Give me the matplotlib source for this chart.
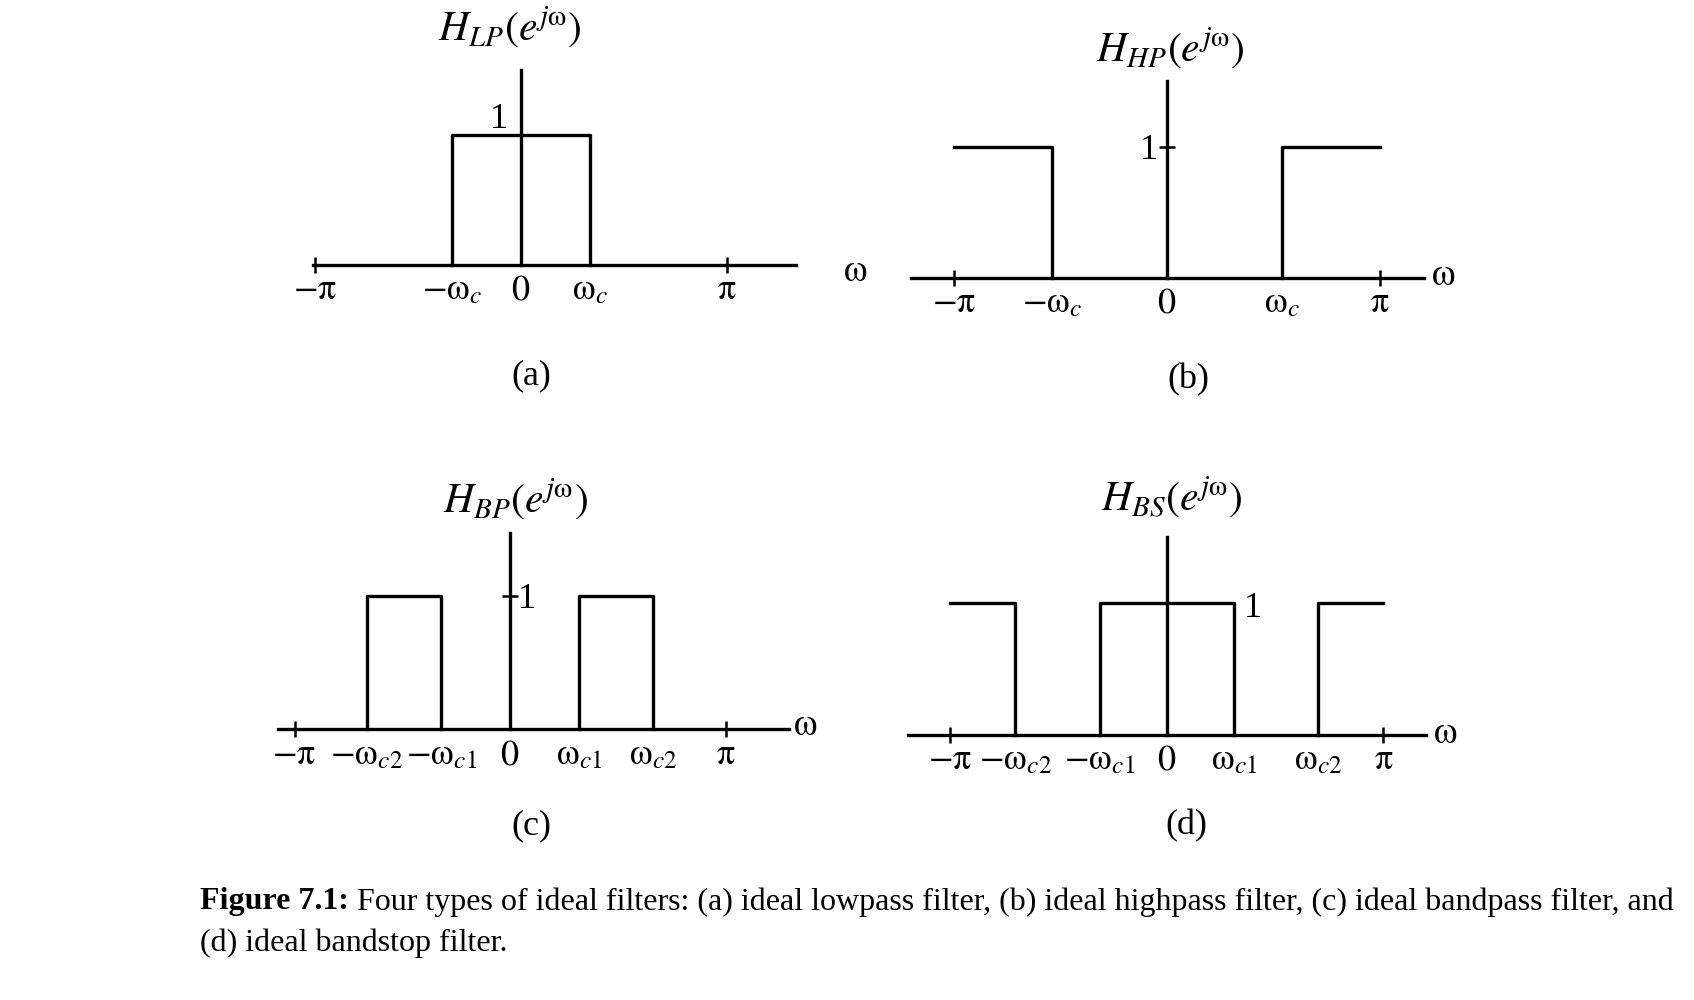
import matplotlib
matplotlib.use("Agg")
import matplotlib.pyplot as plt

plt.rcParams['font.family'] = 'serif'
plt.rcParams['font.serif'] = ['Liberation Serif', 'DejaVu Serif']
plt.rcParams['mathtext.fontset'] = 'stix'

W, H = 1694, 1000

# cutoff frequencies, in units of pi
wc_lp = 0.335
wc_hp = 0.54
wc1_bp, wc2_bp = 0.32, 0.665
wc1_bs, wc2_bs = 0.31, 0.70

lp_ticks = [-1, -wc_lp, 0, wc_lp, 1]
lp_labels = [r'$-\mathrm{\pi}$', r'$-\mathrm{\omega}_c$', r'$0$', r'$\mathrm{\omega}_c$', r'$\mathrm{\pi}$']
hp_ticks = [-1, -wc_hp, 0, wc_hp, 1]
hp_labels = lp_labels
bp_ticks = [-1, -wc2_bp, -wc1_bp, 0, wc1_bp, wc2_bp, 1]
bp_labels = [r'$-\mathrm{\pi}$', r'$-\mathrm{\omega}_{c2}$', r'$-\mathrm{\omega}_{c1}$', r'$0$',
             r'$\mathrm{\omega}_{c1}$', r'$\mathrm{\omega}_{c2}$', r'$\mathrm{\pi}$']
bs_ticks = [-1, -wc2_bs, -wc1_bs, 0, wc1_bs, wc2_bs, 1]
bs_labels = bp_labels

LW = 2.4
TICK_FS = 26


def px(x, y):
    # pixel position (from top-left) -> figure fraction
    return x / W, 1 - y / H


def make_panel(left, right, base, top, xlim, ytop):
    ax = fig.add_axes([left / W, 1 - base / H, (right - left) / W, (base - top) / H])
    ax.set_xlim(*xlim)
    ax.set_ylim(0, ytop)
    ax.patch.set_alpha(0)
    for s in ['top', 'right']:
        ax.spines[s].set_visible(False)
    ax.spines['left'].set_position(('data', 0))
    ax.spines['left'].set_linewidth(LW)
    ax.spines['bottom'].set_linewidth(LW)
    ax.tick_params(axis='x', direction='inout', length=12, width=1.8, pad=1, labelsize=TICK_FS)
    ax.tick_params(axis='y', direction='inout', length=12, width=1.8, labelleft=False)
    ax.set_yticks([])
    return ax


def set_xlabels(ax, ticks, labels):
    ax.set_xticks(ticks, labels)
    for t, pos in zip(ax.xaxis.get_major_ticks(), ticks):
        if abs(abs(pos) - 1) > 1e-9:
            t.tick1line.set_visible(False)


fig = plt.figure(figsize=(W / 100, H / 100), dpi=100)
fig.patch.set_facecolor('white')

# (a) lowpass
ax = make_panel(313, 796, 264.7, 70.2, (-1.009, 1.336), 1.50)
set_xlabels(ax, lp_ticks, lp_labels)
ax.plot([-wc_lp, -wc_lp, wc_lp, wc_lp], [0, 1, 1, 0], color='black', lw=LW, clip_on=False)
ax.text(-0.105, 1.12, '1', fontsize=TICK_FS, ha='center', va='center')

# (b) highpass
ax = make_panel(910.8, 1424, 277.7, 81, (-1.202, 1.207), 1.505)
set_xlabels(ax, hp_ticks, hp_labels)
ax.set_yticks([1])
ax.plot([-1, -wc_hp, -wc_hp], [1, 1, 0], color='black', lw=LW, clip_on=False)
ax.plot([wc_hp, wc_hp, 1], [0, 1, 1], color='black', lw=LW, clip_on=False)
ax.text(-0.04, 0.97, '1', fontsize=TICK_FS, ha='right', va='center')

# (c) bandpass
ax = make_panel(277.7, 788.7, 729.3, 532.6, (-1.078, 1.293), 1.48)
set_xlabels(ax, bp_ticks, bp_labels)
ax.set_yticks([1])
for a, b in [(-wc2_bp, -wc1_bp), (wc1_bp, wc2_bp)]:
    ax.plot([a, a, b, b], [0, 1, 1, 0], color='black', lw=LW, clip_on=False)
ax.text(0.035, 0.98, '1', fontsize=TICK_FS, ha='left', va='center')

# (d) bandstop
ax = make_panel(907.5, 1426, 734.7, 537, (-1.197, 1.197), 1.50)
set_xlabels(ax, bs_ticks, bs_labels)
ax.plot([-1, -wc2_bs, -wc2_bs], [1, 1, 0], color='black', lw=LW, clip_on=False)
ax.plot([-wc1_bs, -wc1_bs, wc1_bs, wc1_bs], [0, 1, 1, 0], color='black', lw=LW, clip_on=False)
ax.plot([wc2_bs, wc2_bs, 1], [0, 1, 1], color='black', lw=LW, clip_on=False)
ax.text(wc1_bs + 0.045, 0.96, '1', fontsize=TICK_FS, ha='left', va='center')

# titles, omega labels, sub-captions
titles = [r'$H_{LP}(e^{j\mathrm{\omega}})$', r'$H_{HP}(e^{j\mathrm{\omega}})$',
          r'$H_{BP}(e^{j\mathrm{\omega}})$', r'$H_{BS}(e^{j\mathrm{\omega}})$']
title_pos = [(510, 27), (1170, 48), (515, 499), (1172, 497)]
omega_pos = [(855, 272), (1443, 276), (805, 726), (1445, 734)]
sub_labels = ['(a)', '(b)', '(c)', '(d)']
sub_pos = [(531, 376), (1188, 380), (531, 826), (1186, 826)]
for t, p in zip(titles, title_pos):
    fig.text(*px(*p), t, fontsize=30, ha='center', va='center')
for p in omega_pos:
    fig.text(*px(*p), r'$\mathrm{\omega}$', fontsize=27, ha='center', va='center')
for s, p in zip(sub_labels, sub_pos):
    fig.text(*px(*p), s, fontsize=26, ha='center', va='center')

# caption
cap = fig.add_axes([0, 0, 1, 1])
cap.axis('off')
CAP_FS = 23
bold = cap.text(*px(200, 902), 'Figure 7.1:', fontsize=CAP_FS, fontweight='bold',
                ha='left', va='center')
cap.annotate(' Four types of ideal filters: (a) ideal lowpass filter, (b) ideal highpass filter, '
             '(c) ideal bandpass filter, and',
             xy=(1, 0.5), xycoords=bold, fontsize=CAP_FS, ha='left', va='center')
cap.text(*px(200, 943), '(d) ideal bandstop filter.', fontsize=CAP_FS, ha='left', va='center')

fig.savefig('out.png', dpi=100)
